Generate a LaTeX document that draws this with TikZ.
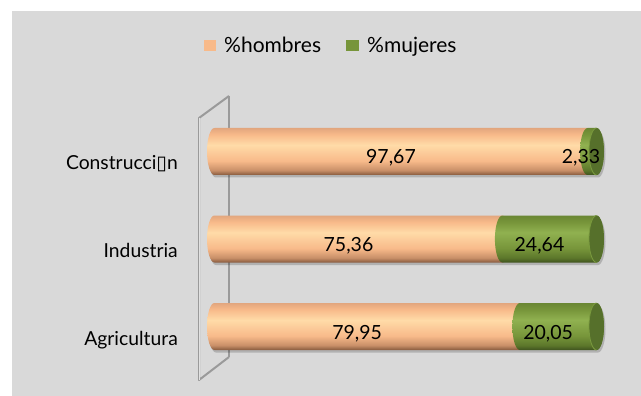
\documentclass[tikz,border=0pt]{standalone}
\usepackage{fontspec}
\setmainfont{Lato}
\newfontfamily\cajafont{DejaVu Sans}

\definecolor{fondo}{HTML}{D9D9D9}
\definecolor{marco}{HTML}{9A9A9A}
\definecolor{htop}{HTML}{E2A67E}
\definecolor{hlight}{HTML}{FFDBA8}
\definecolor{hbase}{HTML}{F8BA8A}
\definecolor{hmid}{HTML}{C88F68}
\definecolor{hdark}{HTML}{86593D}
\definecolor{mtop}{HTML}{6A8733}
\definecolor{mlight}{HTML}{90B150}
\definecolor{mbase}{HTML}{77953A}
\definecolor{mmid}{HTML}{5C772B}
\definecolor{mdark}{HTML}{3F521E}
\definecolor{mcara}{HTML}{56702B}
\definecolor{mborde}{HTML}{7A9A3E}

\pgfdeclareverticalshading{hombres}{100bp}{color(0bp)=(hdark); color(25bp)=(hdark); color(30bp)=(hmid); color(40bp)=(hbase); color(57bp)=(hlight); color(68bp)=(hbase); color(75bp)=(htop); color(100bp)=(htop)}
\pgfdeclareverticalshading{mujeres}{100bp}{color(0bp)=(mdark); color(25bp)=(mdark); color(30bp)=(mmid); color(40bp)=(mbase); color(57bp)=(mlight); color(68bp)=(mbase); color(75bp)=(mtop); color(100bp)=(mtop)}

% one piece of a bar: from x=#1 to x=#2, centre line y=#3, shading #4
\newcommand{\cil}[4]{%
  \shade[shading=#4] (#1,#3-23.5) -- (#2,#3-23.5)
    arc[start angle=-90,end angle=90,x radius=7.5,y radius=23.5]
    -- (#1,#3+23.5)
    arc[start angle=90,end angle=270,x radius=7.5,y radius=23.5] -- cycle;}

\tikzset{
  etiqueta/.style={font=\fontsize{19.3}{21}\selectfont, anchor=base east, inner sep=0pt},
  valor/.style={font=\fontsize{19.5}{21}\selectfont, anchor=base, inner sep=0pt},
  leyenda/.style={font=\fontsize{21}{23}\selectfont, anchor=base west, inner sep=0pt},
  sombra/.style={black, opacity=.18}
}

\begin{document}
\begin{tikzpicture}[x=1pt,y=-1pt]
\useasboundingbox (0,0) rectangle (641,396);
\fill[fondo] (12,11) rectangle (641,396);

% legend
\fill[hbase] (204,40) rectangle (216,51);
\node[leyenda] (lh) at (224,53) {\%hombres};
\fill[mbase] (346,40) rectangle (359,51);
\node[leyenda] (lm) at (367,53) {\%mujeres};

% wall of the axis
\coordinate (ts) at (199,118);
\coordinate (td) at (229,96);
\coordinate (bs) at (199,380);
\coordinate (bd) at (229,357);
\draw[marco, line width=2.4pt] (td) -- (bd);
\draw[marco, line width=2pt, line join=round] (bd) -- (bs) -- (ts) -- (td);
\draw[white!70!marco, line width=.9pt] (ts) -- (bs);

% shadows
\begin{scope}[xshift=1.5pt, yshift=-2.5pt]
\fill[sombra] (214.5,128) -- (596.5,128) arc[start angle=-90,end angle=90,x radius=7.5,y radius=23.5] -- (214.5,175) arc[start angle=90,end angle=270,x radius=7.5,y radius=23.5] -- cycle;
\fill[sombra] (214.5,215.5) -- (596.5,215.5) arc[start angle=-90,end angle=90,x radius=7.5,y radius=23.5] -- (214.5,262.5) arc[start angle=90,end angle=270,x radius=7.5,y radius=23.5] -- cycle;
\fill[sombra] (214.5,303) -- (596.5,303) arc[start angle=-90,end angle=90,x radius=7.5,y radius=23.5] -- (214.5,350) arc[start angle=90,end angle=270,x radius=7.5,y radius=23.5] -- cycle;
\end{scope}

% Construccion, 97,67 / 2,33
\cil{214.5}{587.6}{151.5}{hombres}
\cil{587.6}{596.5}{151.5}{mujeres}
\fill[mcara] (596.5,151.5) ellipse[x radius=7.5,y radius=23.5];
\draw[mborde, line width=.8pt] (596.5,128) arc[start angle=-90,end angle=-270,x radius=7.5,y radius=23.5];

% Industria, 75,36 / 24,64
\cil{214.5}{502.4}{239}{hombres}
\cil{502.4}{596.5}{239}{mujeres}
\fill[mcara] (596.5,239) ellipse[x radius=7.5,y radius=23.5];
\draw[mborde, line width=.8pt] (596.5,215.5) arc[start angle=-90,end angle=-270,x radius=7.5,y radius=23.5];

% Agricultura, 79,95 / 20,05
\cil{214.5}{519.9}{326.5}{hombres}
\cil{519.9}{596.5}{326.5}{mujeres}
\fill[mcara] (596.5,326.5) ellipse[x radius=7.5,y radius=23.5];
\draw[mborde, line width=.8pt] (596.5,303) arc[start angle=-90,end angle=-270,x radius=7.5,y radius=23.5];

% categories
\node[etiqueta] (cCon) at (178,170) {Construcci{\cajafont ▯}n};
\node[etiqueta] (cInd) at (178,257) {Industria};
\node[etiqueta] (cAgr) at (178,345) {Agricultura};

% values
\node[valor] (hCon) at (391,164) {97,67};
\node[valor] (mCon) at (581,164) {2,33};
\node[valor] (hInd) at (348.5,251.5) {75,36};
\node[valor] (mInd) at (539.5,251.5) {24,64};
\node[valor] (hAgr) at (357.2,339) {79,95};
\node[valor] (mAgr) at (548.2,339) {20,05};
\end{tikzpicture}
\end{document}
